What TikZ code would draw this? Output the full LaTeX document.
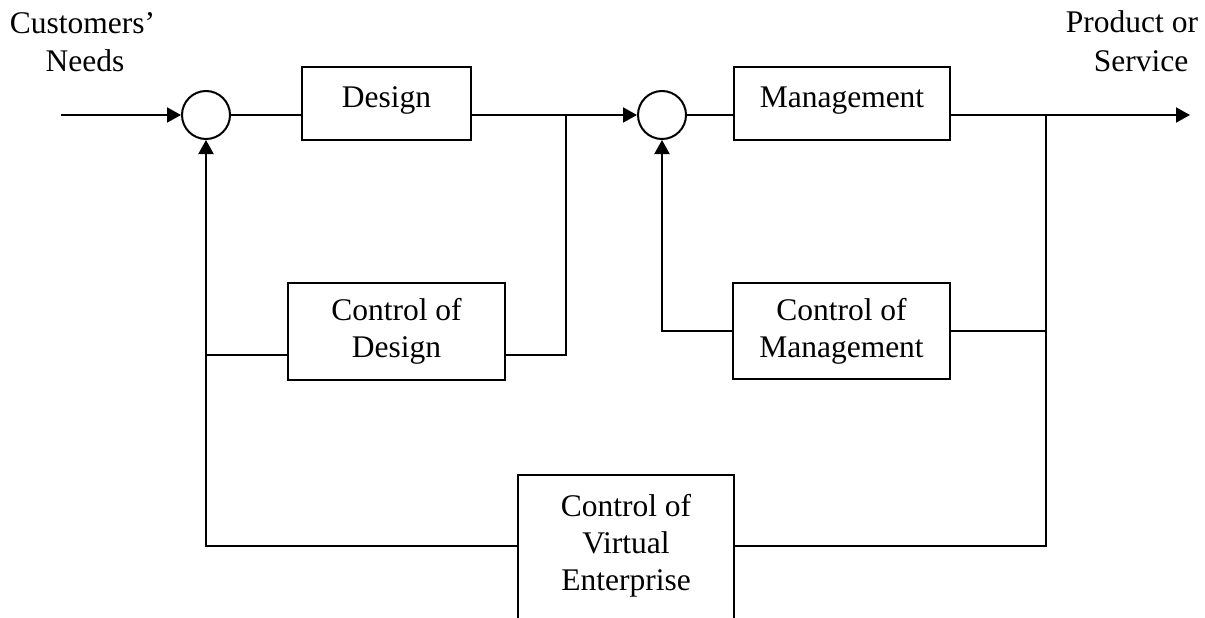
\documentclass[tikz,border=0pt]{standalone}
\usepackage{fontspec}
\setmainfont{Liberation Serif}
\usetikzlibrary{arrows.meta}
\begin{document}
\begin{tikzpicture}[x=1pt,y=-1pt,
  every node/.style={font=\fontsize{31.5}{36.8}\selectfont, inner sep=0pt},
  wire/.style={line width=2pt},
  flow/.style={wire,-{Triangle[length=14pt,width=15pt]}},
  block/.style={draw,line width=2pt,align=center},
  onerow/.style={text height=22pt,text depth=15pt},
  sumpt/.style={draw,line width=2pt,circle,minimum size=48pt}]
\useasboundingbox (0,0) rectangle (1205,618);
\clip (0,0) rectangle (1205,618);

% summing junctions
\node[sumpt] (s1) at (206,115) {};
\node[sumpt] (s2) at (662,115) {};

% forward path
\node[block,onerow,minimum width=169pt,minimum height=73pt] (design) at (386.5,103.5) {Design};
\node[block,onerow,minimum width=216pt,minimum height=73pt] (mgmt) at (842,103.5) {Management};

% feedback controllers
\node[block,minimum width=217pt,minimum height=97pt] (cdes) at (396.5,331.5) {Control of\\Design};
\node[block,minimum width=217pt,minimum height=96pt] (cmgt) at (841.5,331) {Control of\\Management};
\node[align=center,minimum width=216pt,minimum height=141pt] (cve) at (626,545.5) {Control of\\Virtual\\Enterprise};
\draw[wire] ([yshift=-160pt]cve.north west) -- (cve.north west) -- (cve.north east) -- ([yshift=-160pt]cve.north east);

% branch points and free ends
\coordinate (in) at (61,115);
\coordinate (out) at (1190,115);
\coordinate (j1) at (566,115);
\coordinate (j2) at (1046,115);
\coordinate (cdw) at ([yshift=-23.5pt]cdes.west);
\coordinate (cde) at ([yshift=-23.5pt]cdes.east);

% main line
\draw[flow] (in) -- (s1);
\draw[wire] (s1) -- (s1.east -| design.west);
\draw[wire] (design.east |- j1) -- (j1);
\draw[flow] (j1) -- (s2);
\draw[wire] (s2) -- (s2.east -| mgmt.west);
\draw[wire] (mgmt.east |- j2) -- (j2);
\draw[flow] (j2) -- (out);

% design loop
\draw[wire] (j1) |- (cde);
\draw[wire] (cdw) -- (cdw -| s1);
\draw[flow] (cve.west) -| (s1);

% management loop
\draw[wire] (j2) |- (cve.east);
\draw[wire] (cmgt.east) -- (cmgt.east -| j2);
\draw[flow] (cmgt.west) -| (s2);

% input and output labels
\node[anchor=base] (cust) at (82.5,34) {Customers’};
\node[anchor=base] (needs) at (85,72) {Needs};
\node[anchor=base] (prod) at (1132,33) {Product or};
\node[anchor=base] (serv) at (1141,71) {Service};
\end{tikzpicture}
\end{document}
